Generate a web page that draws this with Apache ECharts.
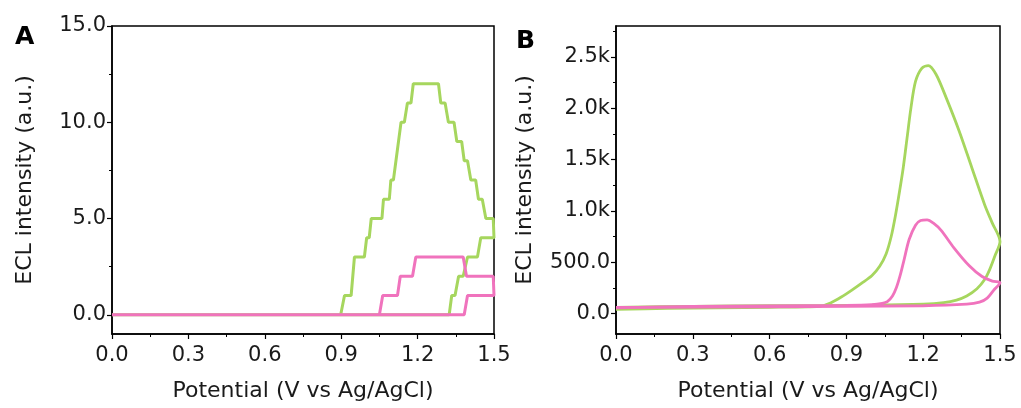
<!DOCTYPE html>
<html>
<head>
<meta charset="utf-8">
<script src="https://cdn.jsdelivr.net/npm/echarts@6/dist/echarts.min.js"></script>
<style>html,body{margin:0;padding:0;background:#fff}#c{width:1021px;height:408px}</style>
</head>
<body>
<div id="c"></div>
<script>
// ---- data ----
const xTicks = [0, 0.3, 0.6, 0.9, 1.2, 1.5];
const yTicksA = [0, 5, 10, 15];
const yMinorA = [2.5, 7.5, 12.5];
const yTicksB = [0, 500, 1000, 1500, 2000, 2500];
const yMinorB = [250, 750, 1250, 1750, 2250, 2750];

// Panel A (potential V, intensity a.u.) - scan forward then back
const greenA = [[0,0],[0.898,0],[0.913,1],[0.939,1],[0.952,3],[0.991,3],[1.0,4],[1.01,4],[1.018,5],[1.06,5],[1.066,6],[1.089,6],[1.095,7],[1.105,7],[1.135,10],[1.148,10],[1.16,11],[1.174,11],[1.183,12],[1.282,12],[1.291,11],[1.308,11],[1.321,10],[1.343,10],[1.354,9],[1.373,9],[1.383,8],[1.396,8],[1.409,7],[1.428,7],[1.439,6],[1.454,6],[1.468,5],[1.497,5],[1.5,4],[1.448,4],[1.435,3],[1.396,3],[1.379,2],[1.361,2],[1.347,1],[1.334,1],[1.324,0],[0,0]];
const pinkA = [[0,0],[1.05,0],[1.063,1],[1.121,1],[1.132,2],[1.18,2],[1.193,3],[1.379,3],[1.392,2],[1.497,2],[1.5,1],[1.396,1],[1.383,0],[0,0]];

// Panel B
const greenB = [[0,40],[0.2,50],[0.4,55],[0.6,60],[0.75,65],[0.8,72],[0.84,105],[0.88,160],[0.92,225],[0.96,295],[1.0,370],[1.03,460],[1.055,580],[1.075,750],[1.092,960],[1.107,1180],[1.122,1420],[1.137,1710],[1.152,2000],[1.17,2260],[1.195,2390],[1.22,2415],[1.25,2330],[1.29,2100],[1.34,1780],[1.39,1420],[1.44,1060],[1.47,880],[1.5,700],[1.48,560],[1.46,430],[1.44,330],[1.41,240],[1.37,170],[1.33,130],[1.28,105],[1.2,90],[1.0,80],[0.6,75],[0.3,70],[0,60]];
const pinkB = [[0,55],[0.3,68],[0.6,73],[0.9,78],[1.0,85],[1.04,98],[1.06,115],[1.08,170],[1.095,250],[1.11,370],[1.125,520],[1.145,720],[1.17,860],[1.19,905],[1.215,912],[1.24,880],[1.27,810],[1.32,640],[1.38,465],[1.43,360],[1.47,315],[1.5,300],[1.475,225],[1.45,150],[1.42,110],[1.37,90],[1.2,75],[0.6,65],[0,58]];

const GREEN = '#a6d65e';
const PINK = '#f073bd';
const FONT = 'DejaVu Sans';

const chart = echarts.init(document.getElementById('c'), null, {renderer: 'canvas'});

function xAxisCfg(gi) {
  return {
    type: 'value', gridIndex: gi, min: 0, max: 1.5, interval: 0.3,
    name: 'Potential (V vs Ag/AgCl)', nameLocation: 'middle', nameGap: 46,
    nameTextStyle: {fontFamily: FONT, fontSize: 22, color: '#1a1a1a'},
    axisLine: {onZero: false, lineStyle: {color: '#000', width: 1.5}},
    axisTick: {show: true, length: 5, lineStyle: {color: '#000', width: 1.2}},
    minorTick: {show: true, splitNumber: 2, length: 3, lineStyle: {color: '#000', width: 1}},
    axisLabel: {fontFamily: FONT, fontSize: 21, color: '#1a1a1a', margin: 11, formatter: v => v.toFixed(1)},
    splitLine: {show: false}
  };
}
function yMain(gi, min, max, ticks, fmt, gap) {
  return {
    type: 'value', gridIndex: gi, min: min, max: max, position: 'left',
    name: 'ECL intensity (a.u.)', nameLocation: 'middle', nameGap: gap,
    nameTextStyle: {fontFamily: FONT, fontSize: 22, color: '#1a1a1a'},
    axisLine: {show: true, onZero: false, lineStyle: {color: '#000', width: 1.5}},
    axisTick: {show: true, length: 5, customValues: ticks, lineStyle: {color: '#000', width: 1.2}},
    axisLabel: {fontFamily: FONT, fontSize: 21, color: '#1a1a1a', margin: 6, customValues: ticks, formatter: fmt},
    splitLine: {show: false}
  };
}
function yMinor(gi, min, max, ticks) {
  return {
    type: 'value', gridIndex: gi, min: min, max: max, position: 'left',
    axisLine: {show: false},
    axisTick: {show: true, length: 3, customValues: ticks, lineStyle: {color: '#000', width: 1}},
    axisLabel: {show: false},
    splitLine: {show: false}
  };
}
const fmtA = v => v.toFixed(1);
const fmtB = v => v >= 1000 ? (v / 1000).toFixed(1) + 'k' : v.toFixed(1);

chart.setOption({
  animation: false,
  backgroundColor: '#fff',
  grid: [
    {left: 112, right: 527, top: 26, bottom: 74, show: true, borderColor: '#000', borderWidth: 1.5},
    {left: 616, right: 21, top: 26, bottom: 74, show: true, borderColor: '#000', borderWidth: 1.5}
  ],
  xAxis: [xAxisCfg(0), xAxisCfg(1)],
  yAxis: [
    yMain(0, -1, 15, yTicksA, fmtA, 76),
    yMinor(0, -1, 15, yMinorA),
    yMain(1, -200, 2800, yTicksB, fmtB, 80),
    yMinor(1, -200, 2800, yMinorB)
  ],
  graphic: [
    {type: 'text', left: 15, top: 25, style: {text: 'A', font: 'bold 25px "DejaVu Sans"', fill: '#000'}},
    {type: 'text', left: 516, top: 29, style: {text: 'B', font: 'bold 25px "DejaVu Sans"', fill: '#000'}}
  ],
  series: [
    {type: 'line', xAxisIndex: 0, yAxisIndex: 0, data: greenA, showSymbol: false, lineStyle: {color: GREEN, width: 3}, z: 2},
    {type: 'line', xAxisIndex: 0, yAxisIndex: 0, data: pinkA, showSymbol: false, lineStyle: {color: PINK, width: 3}, z: 3},
    {type: 'line', xAxisIndex: 1, yAxisIndex: 2, data: greenB, showSymbol: false, smooth: 0.3, lineStyle: {color: GREEN, width: 2.8}, z: 2},
    {type: 'line', xAxisIndex: 1, yAxisIndex: 2, data: pinkB, showSymbol: false, smooth: 0.3, lineStyle: {color: PINK, width: 2.8}, z: 3}
  ]
});
</script>
</body>
</html>
